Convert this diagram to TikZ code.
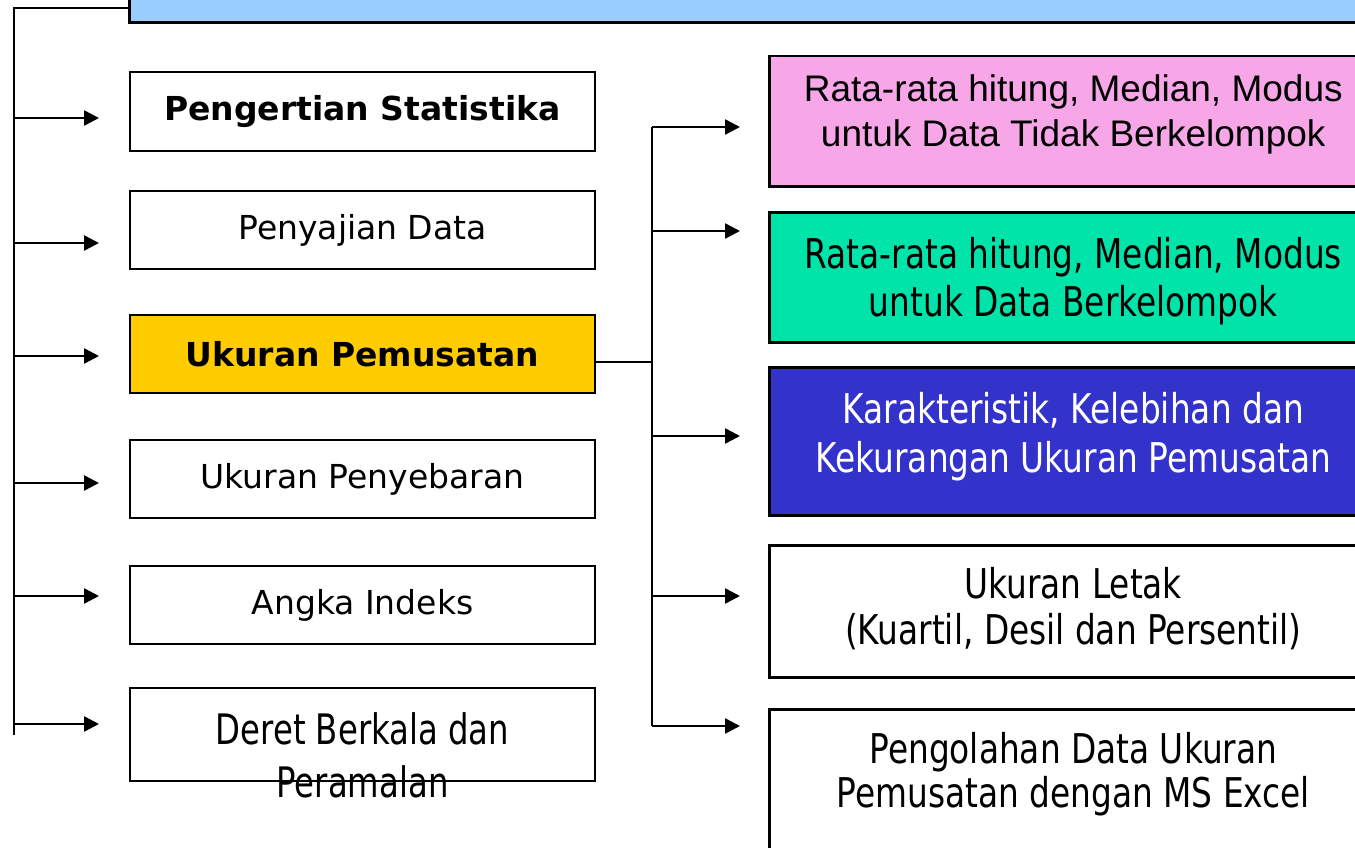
\documentclass[tikz,border=0pt]{standalone}
\usepackage{fontspec}
\setmainfont{DejaVu Sans}
\newfontfamily\arialfont{Liberation Sans}
\newfontfamily\sempitfont[FakeStretch=0.8]{DejaVu Sans}
\newfontfamily\deretfont[FakeStretch=0.77]{DejaVu Sans}
\usetikzlibrary{arrows.meta,calc}

\definecolor{birumuda}{HTML}{99CCFF}
\definecolor{kuning}{HTML}{FFCC00}
\definecolor{merahmuda}{HTML}{F7A6E8}
\definecolor{hijau}{HTML}{00E4AA}
\definecolor{biru}{HTML}{3333CC}

\tikzset{
	kotak/.style={draw=black, line width=2pt, minimum width=465pt, minimum height=78pt, inner sep=0pt, font=\fontsize{33}{40}\selectfont},
	kotakkanan/.style={draw=black, line width=2.5pt, minimum width=608pt, anchor=north west, inner sep=0pt},
	teks/.style={inner sep=0pt, anchor=north, align=center},
	garis/.style={line width=2.5pt},
	panah/.style={garis, -{Triangle[length=15pt,width=15pt]}},
}

\begin{document}
\begin{tikzpicture}[x=1pt,y=-1pt]
	\useasboundingbox (0,0) rectangle (1355,848);
	\clip (0,0) rectangle (1355,848);
	% judul (terpotong di atas)
	\node[draw=black, line width=2.5pt, fill=birumuda, minimum width=1260pt, minimum height=60pt, anchor=south west, inner sep=0pt] (judul) at (128,24) {};
	% kolom kiri
	\node[kotak, minimum height=79pt] (pengertian) at (362.5,111.5) {\bfseries Pengertian Statistika};
	\node[kotak] (penyajian) at (362.5,230) {Penyajian Data};
	\node[kotak, fill=kuning] (pemusatan) at (362.5,354) {\bfseries Ukuran Pemusatan};
	\node[kotak] (penyebaran) at (362.5,479) {Ukuran Penyebaran};
	\node[kotak] (indeks) at (362.5,605) {Angka Indeks};
	\node[kotak, minimum height=93pt] (deret) at (362.5,734.5) {};
	\node[teks, font=\deretfont\fontsize{42}{53}\selectfont] at ($(deret.north)+(0,25)$) {Deret Berkala dan\\Peramalan};
	% kolom kanan
	\node[kotakkanan, fill=merahmuda, minimum height=130pt] (rerata1) at (768,55) {};
	\node[teks, font=\arialfont\fontsize{37}{45}\selectfont] at ($(rerata1.north)+(0,19.5)$) {Rata-rata hitung, Median, Modus\\untuk Data Tidak Berkelompok};
	\node[kotakkanan, fill=hijau, minimum height=130pt] (rerata2) at (768,211) {};
	\node[teks, font=\sempitfont\fontsize{41}{48}\selectfont] at ($(rerata2.north)+(0,26)$) {Rata-rata hitung, Median, Modus\\untuk Data Berkelompok};
	\node[kotakkanan, fill=biru, minimum height=148pt] (karakteristik) at (768,366) {};
	\node[teks, text=white, font=\sempitfont\fontsize{41}{49}\selectfont] at ($(karakteristik.north)+(0,26)$) {Karakteristik, Kelebihan dan\\Kekurangan Ukuran Pemusatan};
	\node[kotakkanan, minimum height=132pt] (letak) at (768,544) {};
	\node[teks, font=\sempitfont\fontsize{41}{46}\selectfont] at ($(letak.north)+(0,23)$) {Ukuran Letak\\(Kuartil, Desil dan Persentil)};
	\node[kotakkanan, minimum height=160pt] (excel) at (768,708) {};
	\node[teks, font=\sempitfont\fontsize{41}{44}\selectfont] at ($(excel.north)+(0,24)$) {Pengolahan Data Ukuran\\Pemusatan dengan MS Excel};
	% garis kiri
	\coordinate (busatas) at (14,8);
	\coordinate (busbawah) at (14,735);
	\draw[garis] (judul.west |- busatas) -- (busatas) -- (busbawah);
	\foreach \n/\y in {pengertian/118, penyajian/243, pemusatan/356, penyebaran/483, indeks/596, deret/724}
		\draw[panah, shorten >=30pt] (busatas |- 0,\y) -- (\n.west |- 0,\y);
	% garis tengah
	\coordinate (cabang) at (652,362);
	\draw[garis] (pemusatan.east |- cabang) -- (cabang);
	\draw[garis] (652,127) -- (652,726);
	\foreach \n/\y in {rerata1/127, rerata2/231, karakteristik/436, letak/596, excel/726}
		\draw[panah, shorten >=28pt] (cabang |- 0,\y) -- (\n.west |- 0,\y);
\end{tikzpicture}
\end{document}
